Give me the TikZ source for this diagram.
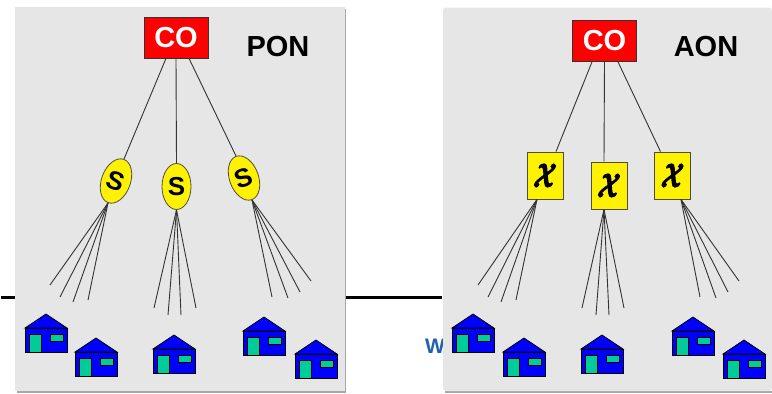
\documentclass[tikz,border=0pt]{standalone}
\usepackage{fontspec}
\usepackage{graphicx}
\setmainfont{Liberation Sans}
\usetikzlibrary{shapes.geometric}
\definecolor{panelgray}{HTML}{E6E6E6}
\definecolor{edgegray}{HTML}{A8A8A8}
\definecolor{doorgreen}{HTML}{00CC99}
\definecolor{wordblue}{HTML}{1F62AE}
\definecolor{wiregray}{HTML}{333333}
\newcommand{\swmark}{\special{pdf:code 2 Tr 0.9 w}\scalebox{1}[1.35]{\mathversion{bold}$\mathcal{X}$}\special{pdf:code 0 Tr}}
\tikzset{
  panel/.style={fill=panelgray,draw=none},
  panel edge/.style={draw=edgegray,line width=1.5pt},
  office/.style={draw=black!80,fill=red,text=white,line width=0.8pt,minimum width=64pt,minimum height=41pt,inner sep=0pt,font=\fontsize{29}{29}\selectfont\bfseries},
  splitter/.style={ellipse,draw=black!70,fill=yellow,line width=0.8pt,minimum width=29pt,minimum height=46pt,inner sep=0pt,font=\fontsize{26}{26}\selectfont\bfseries},
  switch/.style={rectangle,draw=black!70,fill=yellow,line width=0.8pt,minimum width=36pt,minimum height=47pt,inner sep=0pt,font=\fontsize{44}{44}\selectfont},
  wire/.style={draw=wiregray,line width=0.9pt},
  title/.style={inner sep=0pt,font=\fontsize{29}{29}\selectfont\bfseries},
  home/.pic={
    \filldraw[fill=blue,draw=black,line width=0.8pt] (0,0) -- (21,-14) -- (42,0) -- cycle;
    \filldraw[fill=blue,draw=black,line width=0.8pt] (0,0) rectangle (42,24);
    \filldraw[fill=doorgreen,draw=black,line width=0.8pt] (4,6) rectangle (16,24);
    \filldraw[fill=doorgreen,draw=black,line width=0.8pt] (25,6) rectangle (38,13);
  }
}
\begin{document}
\begin{tikzpicture}[x=1pt,y=-1pt]
\useasboundingbox (0,0) rectangle (772,394);

% Draw the rule and the word behind the panels
\node (rule left) at (0,297.5) [inner sep=0pt] {};
\node (rule right) at (443,297.5) [inner sep=0pt] {};
\draw[line width=2.4pt] (rule left) -- (rule right);
\node (word) [text=wordblue,inner sep=0pt,anchor=west,font=\fontsize{21}{21}\selectfont\bfseries] at (425,346.5) {W};

% Draw the two panels
\draw[panel edge] (17,392) -- (345.5,392) -- (345.5,9);
\fill[panel] (15,7) rectangle (345,391);
\draw[panel edge] (445,392) -- (772,392);
\fill[panel,rounded corners=3pt] (443,7.5) rectangle (772,391);

% Titles and central offices
\node (pon) [title] at (278,47) {PON};
\node (aon) [title] at (706,47) {AON};
\node (co1) [office] at (176,37.5) {CO};
\node (co2) [office] at (604.5,41) {CO};

% PON splitters
\node (s1) [splitter,rotate=-20] at (116,181) {S};
\node (s2) [splitter] at (176.5,186.5) {S};
\node (s3) [splitter,rotate=20] at (244,178) {S};

% AON switches
\node (x1) [switch] at (545,175.5) {\swmark};
\node (x2) [switch] at (609,185.5) {\swmark};
\node (x3) [switch] at (672.5,175.5) {\swmark};

% Feeders
\draw[wire] ([xshift=-10pt]co1.south) -- (s1.north);
\draw[wire] (co1.south) -- (s2.north);
\draw[wire] ([xshift=13pt]co1.south) -- (s3.north);
\draw[wire] ([xshift=-12.5pt]co2.south) -- ([xshift=11pt]x1.north);
\draw[wire] (co2.south) -- ([xshift=-5pt]x2.north);
\draw[wire] ([xshift=13.5pt]co2.south) -- ([xshift=-12pt]x3.north);

% Drops, same fan in both panels
\foreach \x/\y [count=\i] in {50/285,60/297,73/302,88/300} {
  \coordinate (a\i) at (\x,\y);
  \coordinate (d\i) at (\x+428,\y);
  \draw[wire] (s1.south) -- (a\i);
  \draw[wire] ([xshift=-8pt]x1.south) -- (d\i);
}
\foreach \x/\y [count=\i] in {154/308,168/315,181/315,196/308} {
  \coordinate (b\i) at (\x,\y);
  \coordinate (e\i) at (\x+428,\y);
  \draw[wire] (s2.south) -- (b\i);
  \draw[wire] ([xshift=-5pt]x2.south) -- (e\i);
}
\foreach \x/\y [count=\i] in {272/297,288/298,300/292,311/281} {
  \coordinate (c\i) at (\x,\y);
  \coordinate (f\i) at (\x+428,\y);
  \draw[wire] (s3.south) -- (c\i);
  \draw[wire] ([xshift=8.5pt]x3.south) -- (f\i);
}

% Houses
\foreach \x/\y in {25/328,75/352,153/349,243/331,295/354,452/328,503/352,581/349,672/331,723/354} {
  \pic at (\x,\y) {home};
}

\end{tikzpicture}
\end{document}
